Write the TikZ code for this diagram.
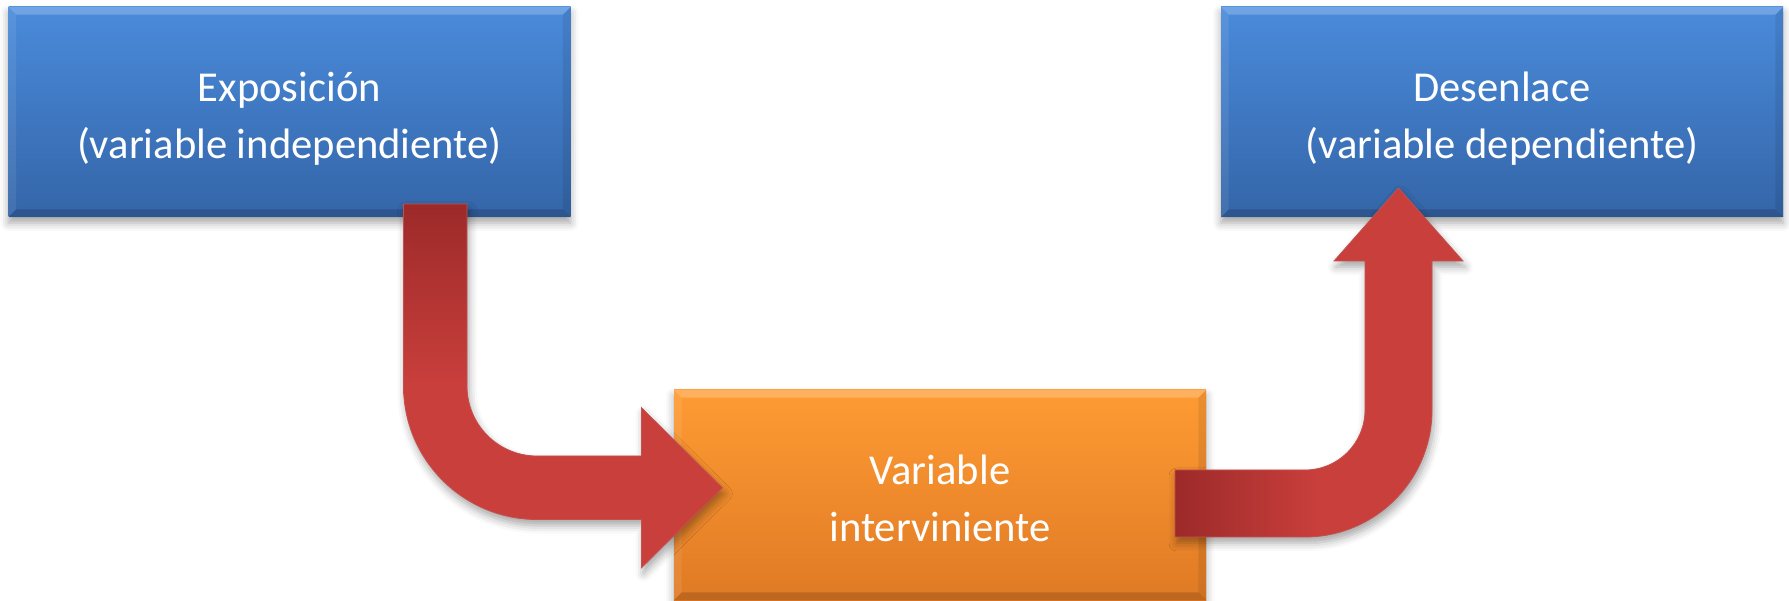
\documentclass[tikz,border=0pt]{standalone}
\usepackage{fontspec}
\setmainfont{Carlito}
\usetikzlibrary{shadows.blur,calc}

\definecolor{bluetop}{HTML}{4A8BDB}
\definecolor{bluebot}{HTML}{3465A8}
\definecolor{orangetop}{HTML}{FF9B33}
\definecolor{orangebot}{HTML}{DF7A25}
\definecolor{arrowdark}{HTML}{9C2A29}
\definecolor{arrowlight}{HTML}{C93F3C}
\definecolor{arrowedge}{HTML}{C4504D}

\tikzset{
  varbox/.style={rectangle, minimum width=#1, minimum height=105pt, inner sep=0pt,
    blur shadow={shadow xshift=0pt, shadow yshift=-3pt, shadow blur radius=4pt, shadow opacity=35}},
  bluebox/.style={varbox=281pt, top color=bluetop, bottom color=bluebot},
  orangebox/.style={varbox=266pt, top color=orangetop, bottom color=orangebot},
  boxtext/.style={align=center, text=white, inner sep=0pt,
    font=\fontsize{21.3pt}{28.5pt}\selectfont},
  fatarrow/.style={draw=arrowedge, line width=0.4pt,
    blur shadow={shadow xshift=1pt, shadow yshift=-3pt, shadow blur radius=4pt, shadow opacity=35}}
}

% light top / dark bottom bevel on a box node
\newcommand\boxbevel[1]{%
  \fill[white, opacity=0.22] (#1.north west) -- (#1.north east) -- ($(#1.north east)+(-4pt,-4pt)$) -- ($(#1.north west)+(4pt,-4pt)$) -- cycle;
  \fill[black, opacity=0.15] (#1.south west) -- (#1.south east) -- ($(#1.south east)+(-4pt,4pt)$) -- ($(#1.south west)+(4pt,4pt)$) -- cycle;
  \fill[white, opacity=0.08] (#1.north west) -- (#1.south west) -- ($(#1.south west)+(4pt,4pt)$) -- ($(#1.north west)+(4pt,-4pt)$) -- cycle;
  \fill[black, opacity=0.08] (#1.north east) -- (#1.south east) -- ($(#1.south east)+(-4pt,4pt)$) -- ($(#1.north east)+(-4pt,-4pt)$) -- cycle;
}

\begin{document}
\begin{tikzpicture}[x=0.5pt, y=0.5pt]
  \useasboundingbox (0,0) rectangle (1789,600);

  % the three variables
  \node[bluebox] (expo) at (289.5,488) {};
  \node[bluebox] (desen) at (1502,488) {};
  \node[orangebox] (inter) at (940,105) {};
  \boxbevel{expo}
  \boxbevel{desen}
  \boxbevel{inter}
  \node[boxtext] (expo-t) at ($(expo.center)+(0,-3.5pt)$) {Exposición\\(variable independiente)};
  \node[boxtext] (desen-t) at ($(desen.center)+(0,-3.5pt)$) {Desenlace\\(variable dependiente)};
  \node[boxtext] (inter-t) at ($(inter.center)+(0,-1.5pt)$) {Variable\\interviniente};

  % exposure -> intervening variable (bent arrow)
  \path[fatarrow, top color=arrowdark, bottom color=arrowlight, middle color=arrowlight]
    (403.5,396) -- (403.5,214) arc[start angle=180, end angle=270, radius=66.75pt]
    -- (641.5,80.5) -- (641.5,32.3) -- (722.3,112.3) -- (641.5,192.3) -- (641.5,144)
    -- (537,144) arc[start angle=270, end angle=180, radius=35pt]
    -- (467,396) -- cycle;

  % intervening variable -> outcome (bent arrow)
  \path[fatarrow, left color=arrowdark, right color=arrowlight, middle color=arrowlight]
    (1175,63) -- (1305,63) arc[start angle=270, end angle=360, radius=63.5pt]
    -- (1432,339) -- (1463,339) -- (1398.5,412) -- (1334,339) -- (1365,339)
    -- (1365,190) arc[start angle=0, end angle=-90, radius=30pt]
    -- (1175,130) -- cycle;
\end{tikzpicture}
\end{document}
